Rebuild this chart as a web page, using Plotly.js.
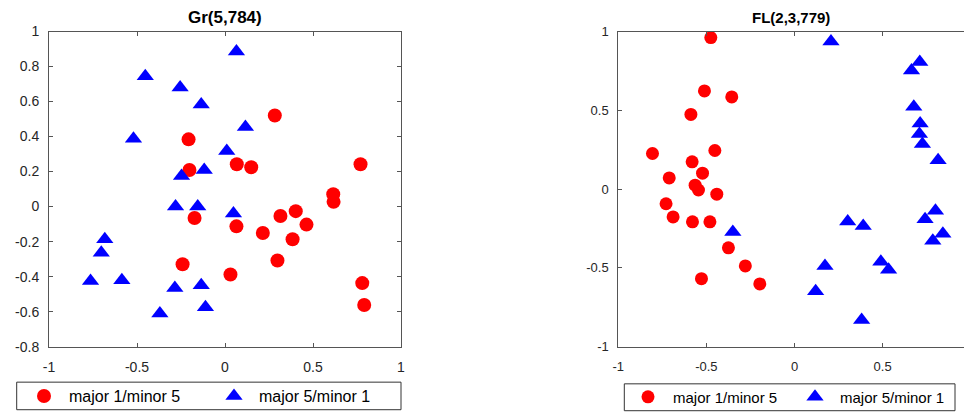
<!DOCTYPE html>
<html>
<head>
<meta charset="utf-8">
<script src="https://cdn.plot.ly/plotly-3.0.1.min.js"></script>
<style>
html, body { margin: 0; padding: 0; overflow: hidden; background: #fff; }
#chart { width: 1000px; height: 414px; }
</style>
</head>
<body>
<div id="chart"></div>
<script>
// ---- data ----
const seriesNames = ['major 1/minor 5', 'major 5/minor 1'];
const panelTitles = ['Gr(5,784)', 'FL(2,3,779)'];

const grRedX = [0.283, -0.207, -0.202, 0.067, 0.149, 0.77, 0.615, 0.617, -0.173, 0.065, 0.315, 0.402, 0.463, 0.215, 0.384, 0.298, -0.241, 0.031, 0.78, 0.791];
const grRedY = [0.52, 0.384, 0.209, 0.242, 0.225, 0.242, 0.071, 0.027, -0.065, -0.113, -0.054, -0.026, -0.103, -0.151, -0.187, -0.308, -0.329, -0.388, -0.437, -0.562];
const grBlueX = [0.065, -0.453, -0.255, -0.135, 0.116, -0.52, 0.01, -0.118, -0.247, -0.281, -0.155, 0.048, -0.683, -0.703, -0.764, -0.586, -0.285, -0.135, -0.111, -0.37];
const grBlueY = [0.886, 0.744, 0.681, 0.583, 0.454, 0.388, 0.317, 0.209, 0.175, 0.0, 0.0, -0.039, -0.187, -0.264, -0.425, -0.421, -0.465, -0.45, -0.575, -0.611];

const flRedX = [-0.475, -0.511, -0.356, -0.588, -0.806, -0.452, -0.581, -0.711, -0.522, -0.564, -0.545, -0.441, -0.729, -0.689, -0.579, -0.48, -0.375, -0.279, -0.528, -0.197];
const flRedY = [0.962, 0.623, 0.585, 0.474, 0.226, 0.245, 0.173, 0.071, 0.101, 0.025, -0.006, -0.032, -0.093, -0.177, -0.208, -0.208, -0.373, -0.488, -0.569, -0.602];
const flBlueX = [0.207, 0.711, 0.664, 0.677, 0.713, 0.709, 0.726, 0.815, 0.8, 0.741, 0.302, 0.39, 0.842, 0.785, -0.35, 0.49, 0.534, 0.173, 0.12, 0.381];
const flBlueY = [0.937, 0.807, 0.752, 0.522, 0.417, 0.349, 0.286, 0.183, -0.137, -0.192, -0.206, -0.234, -0.284, -0.328, -0.272, -0.461, -0.512, -0.488, -0.649, -0.831];

const grXTicks = [-1, -0.5, 0, 0.5, 1];
const grYTicks = [-0.8, -0.6, -0.4, -0.2, 0, 0.2, 0.4, 0.6, 0.8, 1];
const flXTicks = [-1, -0.5, 0, 0.5];
const flYTicks = [-1, -0.5, 0, 0.5, 1];

// ---- styling ----
const FONT = 'Liberation Sans, Arial, Helvetica, sans-serif';
const RED = '#ff0000';
const BLUE = '#0000ff';
const AX = '#555555';
const TXT = '#262626';

function mk(x, y, name, color, symbol, size, xa, ya, leg) {
  return {
    type: 'scatter', mode: 'markers', x: x, y: y, name: name,
    xaxis: xa, yaxis: ya, legend: leg,
    marker: { color: color, symbol: symbol, size: size, line: { width: 0 } },
    hoverinfo: 'x+y'
  };
}

const data = [
  mk(grRedX, grRedY, seriesNames[0], RED, 'circle', 14, 'x', 'y', 'legend'),
  mk(grBlueX, grBlueY, seriesNames[1], BLUE, 'triangle-up', 15, 'x', 'y', 'legend'),
  mk(flRedX, flRedY, seriesNames[0], RED, 'circle', 13, 'x2', 'y2', 'legend2'),
  mk(flBlueX, flBlueY, seriesNames[1], BLUE, 'triangle-up', 15, 'x2', 'y2', 'legend2')
];

function axis(range, ticks, domain, anchor, fsize, standoff) {
  return {
    range: range, domain: domain, anchor: anchor,
    tickmode: 'array', tickvals: ticks, ticktext: ticks.map(String),
    ticks: 'inside', ticklen: 4, tickwidth: 1, tickcolor: AX,
    showline: true, linecolor: AX, linewidth: 1, mirror: 'ticks',
    showgrid: false, zeroline: false,
    tickfont: { family: FONT, size: fsize, color: TXT },
    ticklabelstandoff: standoff,
    fixedrange: true
  };
}

const W = 1000, H = 414;
const yDom = [1 - 348.3 / H, 1 - 31.7 / H];

function legendBox(x0, x1, y0, y1) {
  return { type: 'rect', xref: 'paper', yref: 'paper',
    x0: x0 / W, x1: x1 / W, y0: 1 - y1 / H, y1: 1 - y0 / H,
    line: { color: '#333333', width: 1 }, fillcolor: 'rgba(0,0,0,0)', layer: 'below' };
}

const layout = {
  width: W, height: H,
  margin: { l: 0, r: 0, t: 0, b: 0 },
  paper_bgcolor: '#ffffff', plot_bgcolor: '#ffffff',
  showlegend: true,
  xaxis: axis([-1, 1], grXTicks, [49 / W, 401 / W], 'y', 14, 8),
  yaxis: axis([-0.8, 1], grYTicks, yDom, 'x', 14, 6),
  xaxis2: axis([-1, 1], flXTicks, [618.3 / W, 970.7 / W], 'y2', 13, 8),
  yaxis2: axis([-1, 1], flYTicks, yDom, 'x2', 13, 6),
  legend: {
    orientation: 'h', x: 19 / W, y: 1 - 398 / H, xanchor: 'left', yanchor: 'middle',
    borderwidth: 0, bgcolor: 'rgba(0,0,0,0)', itemwidth: 40,
    font: { family: FONT, size: 16, color: '#000000' },
    entrywidth: 135, itemclick: false
  },
  legend2: {
    orientation: 'h', x: 623 / W, y: 1 - 399 / H, xanchor: 'left', yanchor: 'middle',
    borderwidth: 0, bgcolor: 'rgba(0,0,0,0)', itemwidth: 40,
    font: { family: FONT, size: 15, color: '#000000' },
    entrywidth: 112, itemclick: false
  },
  shapes: [
    legendBox(16.7, 401, 384, 411.7),
    legendBox(624.3, 955, 385.7, 412.7)
  ],
  annotations: [
    { text: '<b>' + panelTitles[0] + '</b>', xref: 'paper', yref: 'paper',
      x: 225 / W, y: 1 - 17.5 / H, xanchor: 'center', yanchor: 'middle', showarrow: false,
      font: { family: FONT, size: 17, color: '#000000' } },
    { text: '<b>' + panelTitles[1] + '</b>', xref: 'paper', yref: 'paper',
      x: 791 / W, y: 1 - 17.5 / H, xanchor: 'center', yanchor: 'middle', showarrow: false,
      font: { family: FONT, size: 15, color: '#000000' } }
  ]
};

Plotly.newPlot('chart', data, layout, { displayModeBar: false, staticPlot: true });
</script>
</body>
</html>
